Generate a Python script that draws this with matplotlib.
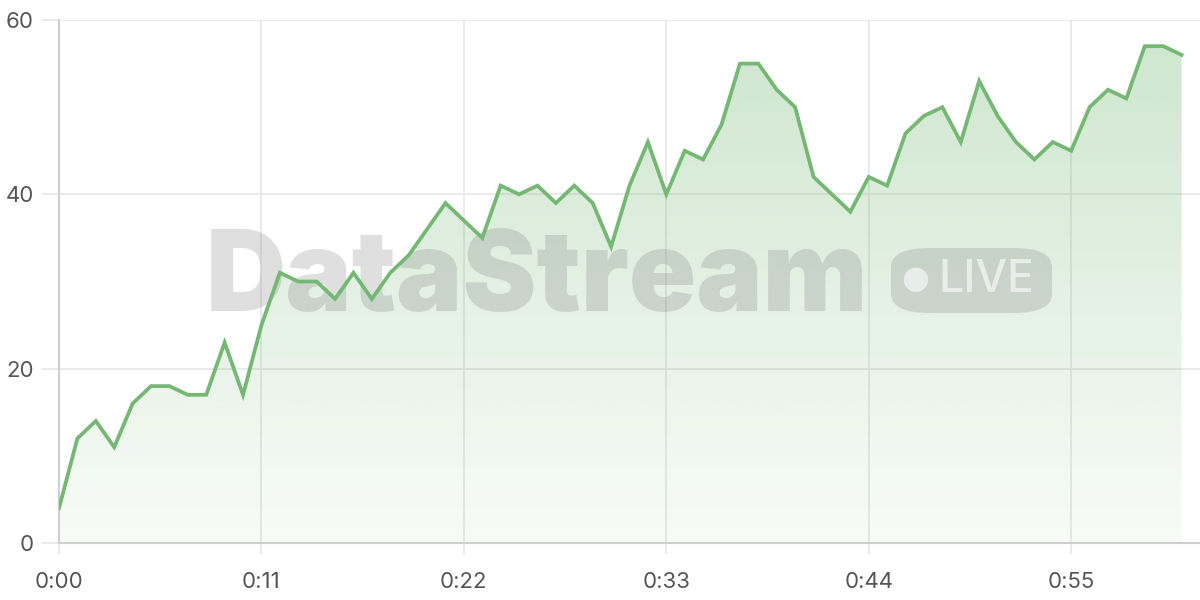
""" DataStream live chart
"""

import numpy as np
import matplotlib
matplotlib.use('Agg')
import matplotlib.pyplot as plt
from matplotlib.patches import FancyBboxPatch
from matplotlib.ticker import FuncFormatter

# Data (one sample per second)
seconds = list(range(62))
values = [4, 12, 14, 11, 16, 18, 18, 17, 17, 23,
          17, 25, 31, 30, 30, 28, 31, 28, 31, 33,
          36, 39, 37, 35, 41, 40, 41, 39, 41, 39,
          34, 41, 46, 40, 45, 44, 48, 55, 55, 52,
          50, 42, 40, 38, 42, 41, 47, 49, 50, 46,
          53, 49, 46, 44, 46, 45, 50, 52, 51, 57,
          57, 56]
x_ticks = [0, 11, 22, 33, 44, 55]
y_ticks = [0, 20, 40, 60]

LINE_COLOR = '#74b874'
GRID_COLOR = '#e6e6e6'
AXIS_COLOR = '#cfcfcf'
LABEL_COLOR = '#555555'

plt.rcParams['font.family'] = ['Inter', 'DejaVu Sans']

fig = plt.figure(figsize=(12, 6), dpi=100)
ax = fig.add_axes([59 / 1200, 57 / 600, 1 - 59 / 1200, (543 - 20) / 600])

# Gradient area under the line
fill = ax.fill_between(seconds, values, 0, color='none', lw=0)
grad = np.zeros((256, 1, 4))
grad[:, 0, :3] = matplotlib.colors.to_rgb(LINE_COLOR)
grad[:, 0, 3] = np.linspace(0.36, 0.05, 256)
img = ax.imshow(grad, extent=[0, 62, 0, 60], aspect='auto', origin='upper',
                zorder=1, interpolation='bilinear')
img.set_clip_path(fill.get_paths()[0], transform=ax.transData)
ax.set_xlim(0, 62)
ax.set_ylim(0, 60)

ax.plot(seconds, values, color=LINE_COLOR, lw=2.7, zorder=4,
        solid_joinstyle='miter')

# Watermark
ax.text(537 / 1200, 319 / 600, 'DataStream', transform=fig.transFigure,
        fontsize=80, fontweight=900, color='#808080', alpha=0.25,
        ha='center', va='center', zorder=3)
badge = FancyBboxPatch((891 / 1200, 287 / 600), 161 / 1200, 65 / 600,
                       boxstyle='round,pad=0,rounding_size=0.032',
                       transform=fig.transFigure, facecolor='#808080',
                       alpha=0.25, edgecolor='none', zorder=3)
fig.patches.append(badge)
fig.text(915 / 1200, 320 / 600, '\u25cf', fontsize=23, color='white', alpha=0.6,
         ha='center', va='center', family='DejaVu Sans')
fig.text(1034 / 1200, 320 / 600, 'LIVE', fontsize=32, fontweight='medium',
         color='white', alpha=0.6, ha='right', va='center')

# Axes styling
ax.set_xticks(x_ticks)
ax.set_yticks(y_ticks)
ax.xaxis.set_major_formatter(FuncFormatter(lambda v, p: '%d:%02d' % (v // 60, v % 60)))
ax.grid(True, color=GRID_COLOR, lw=1.2, zorder=0)
ax.set_axisbelow(True)
for side in ['top', 'right']:
    ax.spines[side].set_visible(False)
for side in ['left', 'bottom']:
    ax.spines[side].set_color(AXIS_COLOR)
    ax.spines[side].set_linewidth(1.5)
ax.tick_params(axis='x', length=8, width=1.2, color=GRID_COLOR, pad=13,
               labelsize=16, labelcolor=LABEL_COLOR)
ax.tick_params(axis='y', length=12, width=1.2, color=GRID_COLOR, pad=6,
               labelsize=16, labelcolor=LABEL_COLOR)

fig.savefig('out.png', dpi=100)
